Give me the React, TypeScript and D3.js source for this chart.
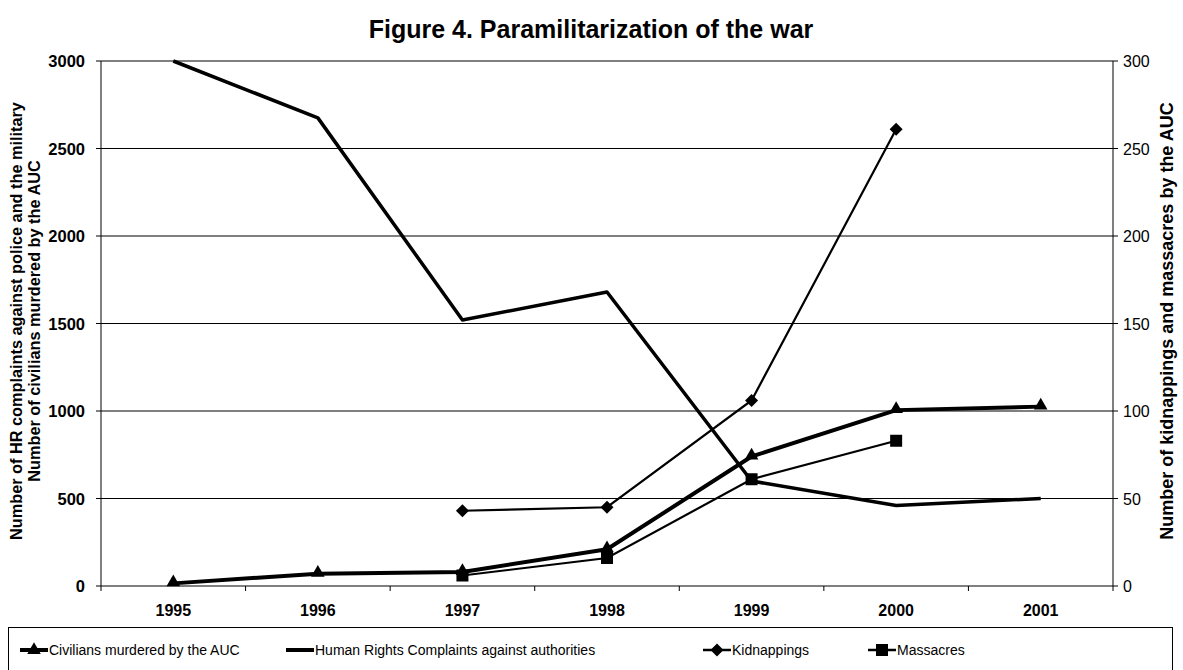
import { useEffect } from 'react'
import * as d3 from 'd3'

const years = ['1995', '1996', '1997', '1998', '1999', '2000', '2001']
const civilians = [15, 70, 80, 210, 740, 1005, 1025]
const hrComplaints = [3000, 2675, 1520, 1680, 600, 460, 500]
const kidnappings = [null, null, 43, 45, 106, 261, null]
const massacres = [null, null, 6, 16, 61, 83, null]
const leftTicks = [0, 500, 1000, 1500, 2000, 2500, 3000]
const rightTicks = [0, 50, 100, 150, 200, 250, 300]

const W = 1183
const H = 670
const M = { left: 101, right: 1113, top: 61, bottom: 586 }
const FONT = '"Liberation Sans", Arimo, sans-serif'
const NARROW = '"Liberation Sans Narrow", "Arial Narrow", sans-serif'

const x = d3.scaleBand().domain(years).range([M.left, M.right])
const yL = d3.scaleLinear().domain([0, 3000]).range([M.bottom, M.top])
const yR = d3.scaleLinear().domain([0, 300]).range([M.bottom, M.top])
const cx = (i: number) => (x(years[i]) as number) + x.bandwidth() / 2

function linePath(vals: (number | null)[], y: d3.ScaleLinear<number, number>) {
  return d3
    .line<number | null>()
    .defined((d) => d != null)
    .x((_, i) => cx(i))
    .y((d) => y(d as number))(vals) as string
}

const triangle = d3.symbol(d3.symbolTriangle, 80)() as string
const diamond = 'M0,-6.5L6.5,0L0,6.5L-6.5,0Z'
const square = 'M-6,-6H6V6H-6Z'

export default function App() {
  useEffect(() => {
    document.body.style.margin = '0'
  }, [])

  const legend = [
    { label: 'Civilians murdered by the AUC', x0: 20, w: 4, marker: triangle },
    { label: 'Human Rights Complaints against authorities', x0: 286, w: 4, marker: null },
    { label: 'Kidnappings', x0: 703, w: 2.5, marker: diamond },
    { label: 'Massacres', x0: 868, w: 2.5, marker: square },
  ]

  return (
    <svg width={W} height={H} style={{ display: 'block', background: '#fff' }}>
      <text x={591} y={38} textAnchor="middle" fontFamily={FONT} fontWeight="bold" fontSize={25}>
        Figure 4. Paramilitarization of the war
      </text>

      {/* gridlines */}
      {leftTicks.slice(1).map((t) => (
        <line key={t} x1={M.left} x2={M.right} y1={yL(t)} y2={yL(t)} stroke="#000" strokeWidth={1} />
      ))}

      {/* axes */}
      <line x1={M.left} x2={M.left} y1={M.top} y2={M.bottom} stroke="#000" />
      <line x1={M.right} x2={M.right} y1={M.top} y2={M.bottom} stroke="#000" />
      <line x1={M.left} x2={M.right} y1={M.bottom} y2={M.bottom} stroke="#000" />

      {leftTicks.map((t) => (
        <g key={'l' + t}>
          <line x1={M.left - 5} x2={M.left} y1={yL(t)} y2={yL(t)} stroke="#000" />
          <text x={M.left - 16} y={yL(t) + 6} textAnchor="end" fontFamily={FONT} fontWeight="bold" fontSize={16.5}>
            {t}
          </text>
        </g>
      ))}
      {rightTicks.map((t) => (
        <g key={'r' + t}>
          <line x1={M.right} x2={M.right + 5} y1={yR(t)} y2={yR(t)} stroke="#000" />
          <text x={M.right + 10} y={yR(t) + 6} textAnchor="start" fontFamily={FONT} fontSize={16}>
            {t}
          </text>
        </g>
      ))}
      {years.map((yr, i) => (
        <g key={yr}>
          <line x1={x(yr) as number} x2={x(yr) as number} y1={M.bottom} y2={M.bottom + 5} stroke="#000" />
          {i === years.length - 1 && (
            <line x1={M.right} x2={M.right} y1={M.bottom} y2={M.bottom + 5} stroke="#000" />
          )}
          <text x={cx(i)} y={M.bottom + 30} textAnchor="middle" fontFamily={FONT} fontWeight="bold" fontSize={16}>
            {yr}
          </text>
        </g>
      ))}

      {/* axis titles */}
      <text transform="translate(22,321) rotate(-90)" textAnchor="middle" fontFamily={FONT} fontWeight="bold" fontSize={16.3}>
        Number of HR complaints against police and the military
      </text>
      <text transform="translate(40,321) rotate(-90)" textAnchor="middle" fontFamily={FONT} fontWeight="bold" fontSize={16.3}>
        Number of civilians murdered by the AUC
      </text>
      <text transform="translate(1173,321) rotate(-90)" textAnchor="middle" fontFamily={FONT} fontWeight="bold" fontSize={18}>
        Number of kidnappings and massacres by the AUC
      </text>

      {/* series */}
      <path d={linePath(hrComplaints, yL)} fill="none" stroke="#000" strokeWidth={3.5} strokeLinejoin="round" />
      <path d={linePath(kidnappings, yR)} fill="none" stroke="#000" strokeWidth={2.2} />
      {kidnappings.map((v, i) =>
        v == null ? null : <path key={'k' + i} d={diamond} transform={`translate(${cx(i)},${yR(v)})`} fill="#000" />
      )}
      <path d={linePath(massacres, yR)} fill="none" stroke="#000" strokeWidth={2.2} />
      {massacres.map((v, i) =>
        v == null ? null : <path key={'m' + i} d={square} transform={`translate(${cx(i)},${yR(v)})`} fill="#000" />
      )}
      <path d={linePath(civilians, yL)} fill="none" stroke="#000" strokeWidth={4} strokeLinejoin="round" />
      {civilians.map((v, i) => (
        <path key={'c' + i} d={triangle} transform={`translate(${cx(i)},${yL(v) - 1})`} fill="#000" />
      ))}

      {/* legend */}
      <rect x={8.5} y={627.5} width={1164} height={60} fill="#fff" stroke="#000" />
      {legend.map((l) => (
        <g key={l.label} transform={`translate(${l.x0},650)`}>
          <line x1={0} x2={28} y1={0} y2={0} stroke="#000" strokeWidth={l.w} />
          {l.marker && <path d={l.marker} transform="translate(14,0)" fill="#000" />}
          <text x={29} y={5} fontFamily={NARROW} fontSize={14}>
            {l.label}
          </text>
        </g>
      ))}
    </svg>
  )
}
